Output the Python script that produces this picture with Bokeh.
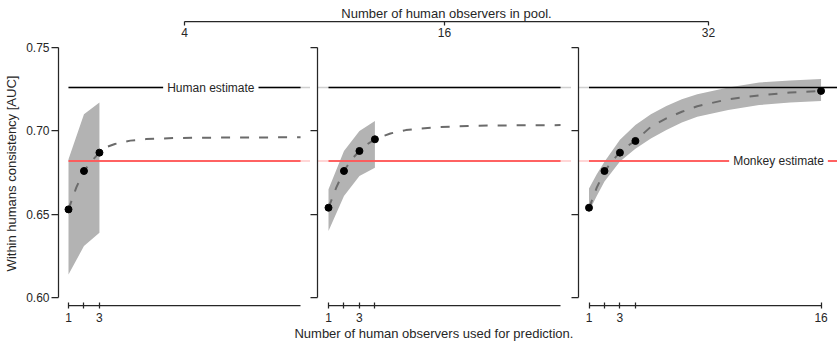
from bokeh.plotting import figure
from bokeh.layouts import column, row
from bokeh.models import Range1d, FixedTicker, LinearAxis, Label, PrintfTickFormatter
from bokeh.embed import file_html
from bokeh.resources import INLINE

# ---- data -------------------------------------------------------------
pool_sizes = [4, 16, 32]
human_estimate = 0.726
monkey_estimate = 0.682
y_ticks = [0.60, 0.65, 0.70, 0.75]

# pool of 4 observers
n_pool4 = [1, 2, 3]
auc_pool4 = [0.653, 0.676, 0.687]
band_n_pool4 = [1, 2, 3]
band_hi_pool4 = [0.683, 0.710, 0.717]
band_lo_pool4 = [0.614, 0.631, 0.639]
fit_n_pool4 = [1, 1.5, 2, 2.5, 3, 3.5, 4, 5, 6, 8, 12, 16]
fit_auc_pool4 = [0.653, 0.666, 0.676, 0.682, 0.687, 0.6905, 0.6922, 0.6942,
                 0.6951, 0.6958, 0.6961, 0.6962]

# pool of 16 observers
n_pool16 = [1, 2, 3, 4]
auc_pool16 = [0.654, 0.676, 0.688, 0.695]
band_n_pool16 = [1, 2, 3, 4]
band_hi_pool16 = [0.665, 0.688, 0.700, 0.706]
band_lo_pool16 = [0.640, 0.661, 0.673, 0.678]
fit_n_pool16 = [1, 1.5, 2, 2.5, 3, 3.5, 4, 5, 6, 7, 8, 10, 12, 16]
fit_auc_pool16 = [0.654, 0.666, 0.676, 0.683, 0.688, 0.692, 0.695, 0.6985,
                  0.7005, 0.7015, 0.7022, 0.7030, 0.7033, 0.7035]

# pool of 32 observers
n_pool32 = [1, 2, 3, 4, 16]
auc_pool32 = [0.654, 0.676, 0.687, 0.694, 0.724]
band_n_pool32 = [1, 1.5, 2, 3, 4, 5, 6, 7, 8, 10, 12, 14, 16]
band_hi_pool32 = [0.6655, 0.674, 0.6815, 0.6947, 0.7036, 0.7100, 0.7150,
                  0.7190, 0.7220, 0.7260, 0.7290, 0.7303, 0.7311]
band_lo_pool32 = [0.6518, 0.661, 0.6697, 0.6817, 0.6893, 0.6955, 0.7005,
                  0.7050, 0.7085, 0.7125, 0.7155, 0.7170, 0.7180]
fit_n_pool32 = [1, 1.5, 2, 2.5, 3, 3.5, 4, 5, 6, 7, 8, 10, 12, 14, 16]
fit_auc_pool32 = [0.6536, 0.666, 0.6757, 0.682, 0.6873, 0.691, 0.6942, 0.7025,
                  0.7075, 0.7115, 0.7148, 0.7190, 0.7213, 0.7230, 0.7240]

x_major = [[1, 3], [1, 3], [1, 3, 16]]
x_minor = [[2], [2, 4], [2, 4]]

# ---- style / layout ---------------------------------------------------
FONT = "Liberation Sans"
INK = "#262626"
FS = "12px"
TITLE_FS = "13px"
PX_PER_N = 15.47           # pixels per observer on the x axes
N_MAX = 16
Y0, Y1 = 0.5954, 0.7536
TOP_H = 41
PANEL_H = 286
BOTTOM_H = 16
BORDER_L = [58, 7, 7]
FRAME_W = [252, 254, 259]
LEAD_PX = [10.0, 11.0, 10.5]   # gap between y spine and n = 1
XLABEL_X = 405                 # anchor of the shared x-axis title in the bottom strip
TOTAL_W = sum(b + w for b, w in zip(BORDER_L, FRAME_W))


def style_axis(ax):
    ax.axis_line_color = INK
    ax.axis_line_width = 1.25
    ax.major_tick_line_color = INK
    ax.major_tick_line_width = 1.25
    ax.minor_tick_line_color = INK
    ax.minor_tick_line_width = 1.25
    ax.major_label_text_font = FONT
    ax.major_label_text_font_size = FS
    ax.major_label_text_color = INK
    ax.axis_label_text_font = FONT
    ax.axis_label_text_font_size = TITLE_FS
    ax.axis_label_text_font_style = "normal"
    ax.axis_label_text_color = INK


def strip(height, frame_left, **borders):
    # full-width strip; x coordinates are page pixels
    s = figure(width=TOTAL_W, height=height,
               x_range=Range1d(frame_left, TOTAL_W),
               y_range=Range1d(0, 1), x_axis_type=None, y_axis_type=None,
               output_backend="svg", toolbar_location=None,
               min_border_left=frame_left, min_border_right=0, **borders)
    s.outline_line_color = None
    return s


def label_axis(text):
    # axis that shows only its title
    ax = LinearAxis(ticker=FixedTicker(ticks=[], minor_ticks=[]))
    style_axis(ax)
    ax.axis_line_color = None
    ax.major_tick_out = 0
    ax.major_tick_in = 0
    ax.major_label_standoff = 0
    ax.axis_label = text
    ax.axis_label_standoff = 0
    return ax


panels = [
    (n_pool4, auc_pool4, band_n_pool4, band_hi_pool4, band_lo_pool4, fit_n_pool4, fit_auc_pool4),
    (n_pool16, auc_pool16, band_n_pool16, band_hi_pool16, band_lo_pool16, fit_n_pool16, fit_auc_pool16),
    (n_pool32, auc_pool32, band_n_pool32, band_hi_pool32, band_lo_pool32, fit_n_pool32, fit_auc_pool32),
]

figs = []
centers = []
left = 0
for i, (n, auc, bn, bhi, blo, fn, fauc) in enumerate(panels):
    xs = 1 - LEAD_PX[i] / PX_PER_N
    xe = xs + FRAME_W[i] / PX_PER_N
    fw = BORDER_L[i] + FRAME_W[i]
    centers.append(int(round(left + BORDER_L[i] + FRAME_W[i] / 2)))
    left += fw
    last = i == len(panels) - 1

    p = figure(width=fw, height=PANEL_H, x_range=Range1d(xs, xe),
               y_range=Range1d(Y0, Y1), x_axis_type=None, y_axis_type=None,
               output_backend="svg", toolbar_location=None,
               min_border_left=BORDER_L[i], min_border_right=0,
               min_border_top=0, min_border_bottom=22)
    p.outline_line_color = None

    # bootstrap band
    p.varea(x=bn, y1=blo, y2=bhi, fill_color="#b3b3b3", fill_alpha=1.0)

    # reference levels: faint across the gaps, solid over the data span
    faint_start = 1 if i == 0 else xs
    solid_end = xe if last else N_MAX
    for level, solid, faint in ((human_estimate, "black", "#cfcfcf"),
                                (monkey_estimate, "#ff3b3b", "#ffc8c8")):
        p.line([faint_start, xe], [level, level], line_color=faint, line_width=1.4)
        p.line([1, solid_end], [level, level], line_color=solid, line_width=1.4)

    # saturating fit and observed points
    p.line(fn, fauc, line_color="#6b6b6b", line_width=2, line_dash="9 10")
    p.scatter(n, auc, size=7, color="black")

    xax = LinearAxis(ticker=FixedTicker(ticks=x_major[i], minor_ticks=x_minor[i]),
                     bounds=(1, N_MAX))
    style_axis(xax)
    xax.major_tick_in = 3
    xax.major_tick_out = 3
    xax.minor_tick_in = 3
    xax.minor_tick_out = 3
    xax.major_label_standoff = 4
    p.add_layout(xax, "below")

    if i == 0:
        yax = LinearAxis(ticker=FixedTicker(ticks=y_ticks, minor_ticks=[]),
                         bounds=(y_ticks[0], y_ticks[-1]),
                         formatter=PrintfTickFormatter(format="%.2f"))
        style_axis(yax)
        yax.major_label_standoff = 2
        yax.axis_label = "Within humans consistency [AUC]"
        yax.axis_label_standoff = 4
    else:
        # same ticks, no labels
        yax = LinearAxis(ticker=FixedTicker(ticks=[], minor_ticks=y_ticks),
                         bounds=(y_ticks[0], y_ticks[-1]))
        style_axis(yax)
        yax.major_label_standoff = 0
    yax.major_tick_out = 7
    yax.major_tick_in = 0
    yax.minor_tick_out = 7
    yax.minor_tick_in = 0
    p.add_layout(yax, "left")

    if i == 0:
        p.add_layout(Label(x=10.2, y=human_estimate, text="Human estimate",
                           text_align="center", text_baseline="middle",
                           text_font=FONT, text_font_size=FS, text_color=INK,
                           background_fill_color="white", padding=4))
    if last:
        p.add_layout(Label(x=13.25, y=monkey_estimate, text="Monkey estimate",
                           text_align="center", text_baseline="middle",
                           text_font=FONT, text_font_size=FS, text_color=INK,
                           background_fill_color="white", padding=4))
    figs.append(p)

# strip carrying the pool-size axis across the three panels
top_frame_left = int(round(centers[0] + centers[-1] - TOTAL_W))
top = strip(TOP_H, top_frame_left, min_border_top=20, min_border_bottom=20)
pool_ax = LinearAxis(ticker=FixedTicker(ticks=centers, minor_ticks=[]),
                     bounds=(centers[0], centers[-1]),
                     major_label_overrides={c: str(s) for c, s in zip(centers, pool_sizes)})
style_axis(pool_ax)
pool_ax.major_tick_in = 0
pool_ax.major_tick_out = 4
pool_ax.major_label_standoff = 2
top.add_layout(pool_ax, "below")
top.add_layout(label_axis("Number of human observers in pool."), "above")

# strip carrying the shared x-axis title
bottom = strip(BOTTOM_H, 0, min_border_top=0, min_border_bottom=0)
bottom.add_layout(Label(x=XLABEL_X, y=0.62,
                        text="Number of human observers used for prediction.",
                        text_align="center", text_baseline="middle",
                        text_font=FONT, text_font_size=TITLE_FS, text_color=INK))

layout = column(top, row(*figs, spacing=0), bottom, spacing=0)
open("out.html", "w").write(file_html(layout, INLINE))
